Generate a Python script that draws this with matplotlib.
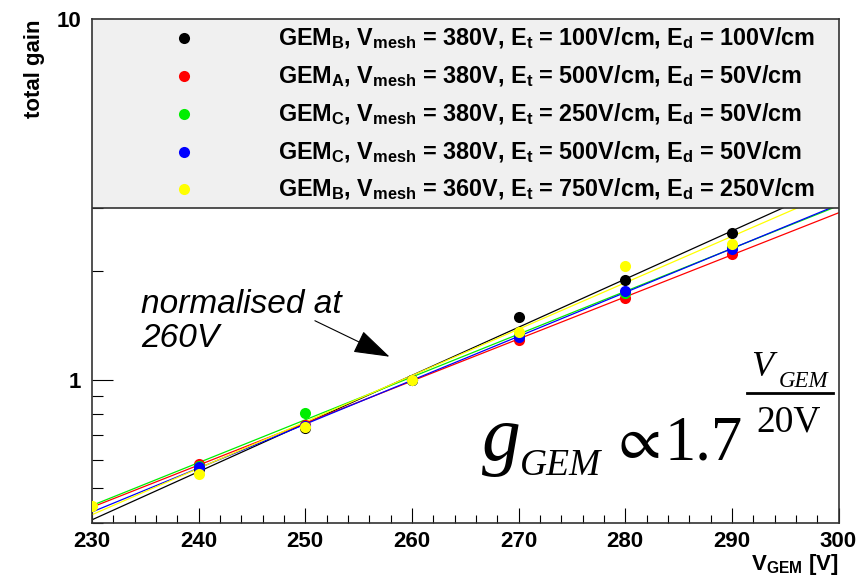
import numpy as np
import matplotlib
matplotlib.use("Agg")
import matplotlib.pyplot as plt
from matplotlib.lines import Line2D
from matplotlib.patches import Rectangle
from matplotlib.ticker import LogLocator, NullFormatter, FixedLocator, MultipleLocator

plt.rcParams['font.family'] = ['Liberation Sans', 'DejaVu Sans']
plt.rcParams['mathtext.fontset'] = 'custom'
plt.rcParams['mathtext.rm'] = 'Liberation Sans:bold'
plt.rcParams['mathtext.it'] = 'Liberation Sans:bold'
plt.rcParams['mathtext.bf'] = 'Liberation Sans:bold'

# measured gain, normalised to 1 at 260 V
v_gem = [240, 250, 260, 270, 280, 290]
gain_b_380_100 = [0.565, 0.732, 1.0, 1.487, 1.884, 2.546]
gain_a_380_500 = [0.582, 0.750, 1.0, 1.290, 1.685, 2.229]
gain_c_380_250 = [0.575, 0.809, 1.0, 1.330, 1.740, 2.326]
gain_c_380_500 = [0.571, 0.745, 1.0, 1.310, 1.759, 2.300]
v_gem_b360 = [230, 240, 250, 260, 270, 280, 290]
gain_b_360_750 = [0.445, 0.547, 0.737, 1.0, 1.357, 2.066, 2.377]

labels = [
    r"GEM$_{\mathrm{B}}$, V$_{\mathrm{mesh}}$ = 380V, E$_{\mathrm{t}}$ = 100V/cm, E$_{\mathrm{d}}$ = 100V/cm",
    r"GEM$_{\mathrm{A}}$, V$_{\mathrm{mesh}}$ = 380V, E$_{\mathrm{t}}$ = 500V/cm, E$_{\mathrm{d}}$ = 50V/cm",
    r"GEM$_{\mathrm{C}}$, V$_{\mathrm{mesh}}$ = 380V, E$_{\mathrm{t}}$ = 250V/cm, E$_{\mathrm{d}}$ = 50V/cm",
    r"GEM$_{\mathrm{C}}$, V$_{\mathrm{mesh}}$ = 380V, E$_{\mathrm{t}}$ = 500V/cm, E$_{\mathrm{d}}$ = 50V/cm",
    r"GEM$_{\mathrm{B}}$, V$_{\mathrm{mesh}}$ = 360V, E$_{\mathrm{t}}$ = 750V/cm, E$_{\mathrm{d}}$ = 250V/cm",
]
colors = ['#000000', '#ff0000', '#00ee00', '#0000ff', '#ffff00']

series = [
    (v_gem, gain_b_380_100),
    (v_gem, gain_a_380_500),
    (v_gem, gain_c_380_250),
    (v_gem, gain_c_380_500),
    (v_gem_b360, gain_b_360_750),
]

fig = plt.figure(figsize=(8.6, 5.76), dpi=100)
ax = fig.add_axes([0.107, 0.092, 0.868, 0.875])
ax.set_yscale('log')
ax.set_xlim(230, 300)
ax.set_ylim(0.4, 10)

# exponential fit of every set, drawn over the full range
xfit = np.array([230.0, 300.0])
for (x, y), c in zip(series, colors):
    p = np.polyfit(x, np.log10(y), 1)
    ax.plot(xfit, 10 ** np.polyval(p, xfit), color=c, lw=0.9, zorder=2)
for (x, y), c in zip(series, colors):
    ax.plot(x, y, 'o', color=c, ms=8, mec='none', zorder=3)

# ticks
ax.xaxis.set_major_locator(MultipleLocator(10))
ax.xaxis.set_minor_locator(MultipleLocator(2))
ax.yaxis.set_major_locator(FixedLocator([1, 10]))
ax.yaxis.set_minor_locator(LogLocator(base=10, subs=np.arange(2, 10)))
ax.yaxis.set_minor_formatter(NullFormatter())
ax.set_yticklabels(['1', '10'])
ax.tick_params(axis='both', which='both', direction='in', top=False, right=False,
               labelsize=16, width=0.8)
ax.tick_params(axis='x', which='major', length=11, pad=6)
ax.tick_params(axis='x', which='minor', length=5.5)
ax.tick_params(axis='y', which='major', length=15, pad=8)
ax.tick_params(axis='y', which='minor', length=8)
for lab in ax.get_xticklabels() + ax.get_yticklabels():
    lab.set_fontweight('bold')
for s in ax.spines.values():
    s.set_linewidth(1.2)
    s.set_color('#333333')

ax.set_xlabel(r"V$_{\mathrm{GEM}}$ [V]", fontsize=16, fontweight='bold', loc='right', labelpad=0)
ax.set_ylabel("total gain", fontsize=16, fontweight='bold', loc='top', labelpad=8)

# legend box across the top of the frame
ax.add_patch(Rectangle((0, 0.625), 1, 0.375, transform=ax.transAxes,
                       facecolor='#f0f0f0', edgecolor='#333333', lw=1.2, zorder=5))
rows = [0.962, 0.8875, 0.8115, 0.7367, 0.6627]
for r, c, lab in zip(rows, colors, labels):
    ax.add_line(Line2D([0.123], [r], transform=ax.transAxes, marker='o', ms=8,
                       color=c, mec='none', zorder=6))
    ax.text(0.249, r, lab, transform=ax.transAxes, fontsize=16.8, fontweight='bold',
            va='center', ha='left', zorder=6)

# annotation text and arrow
ax.text(0.066, 0.335, "normalised at\n260V", transform=ax.transAxes, fontsize=24,
        style='italic', ha='left', va='bottom', linespacing=1.15)
ax.annotate("", xy=(257.9, 1.157), xytext=(250.9, 1.456),
            arrowprops=dict(arrowstyle='-|>,head_length=2.3,head_width=0.75',
                            mutation_scale=10, color='black', lw=0.8,
                            shrinkA=0, shrinkB=0))

# gain formula g_GEM ~ 1.7^(V_GEM/20V)
W, H = 860.0, 576.0
def ftext(px, py, s, size, italic=False, **kw):
    fig.text(px / W, 1 - py / H, s, fontsize=size,
             family=['Liberation Serif', 'DejaVu Serif'],
             style='italic' if italic else 'normal', ha='left', va='baseline', **kw)

ftext(482, 460, "g", 56, italic=True)
ftext(520, 475, "GEM", 27, italic=True)
ftext(610, 458, r"$\propto$", 44, math_fontfamily='stix')
ftext(664, 460, "1.7", 45)
ftext(751, 376, "V", 26, italic=True)
ftext(779, 387, "GEM", 16.5, italic=True)
ftext(756, 431, "20V", 27)
fig.add_artist(Line2D([747 / W, 833 / W], [1 - 393 / H, 1 - 393 / H], color='black', lw=2))

fig.savefig("out.png", dpi=100)
